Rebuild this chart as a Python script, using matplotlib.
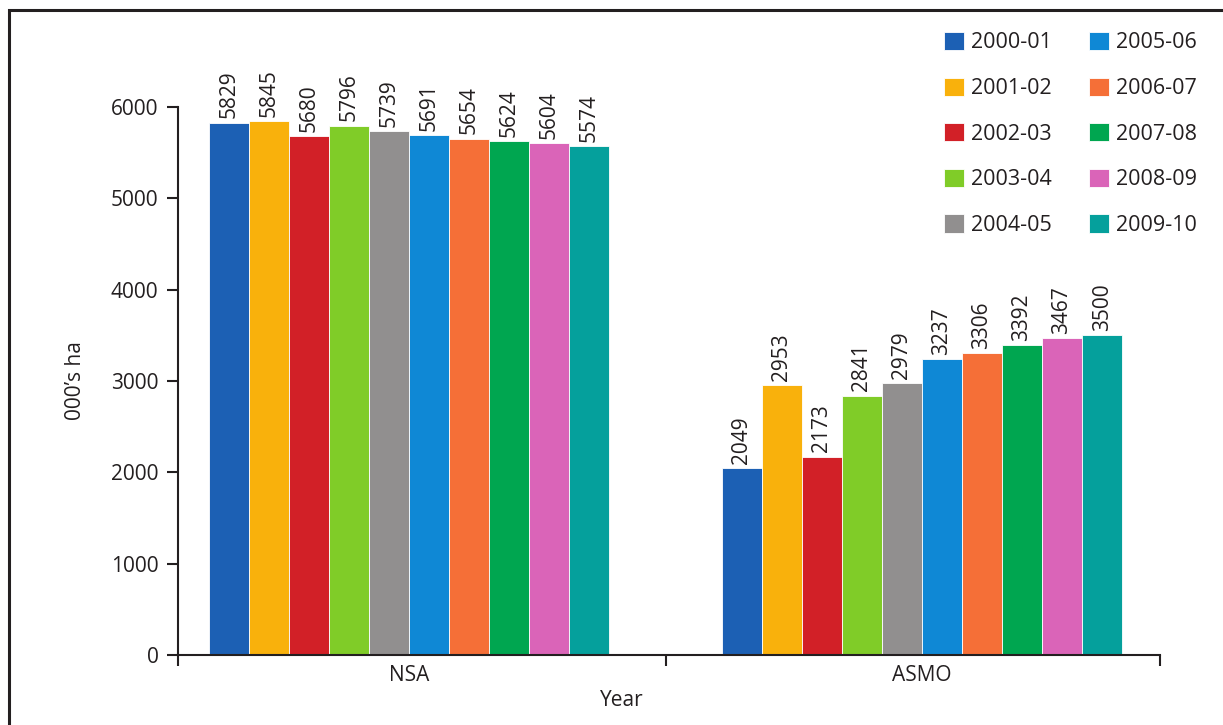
import numpy as np
import matplotlib.pyplot as plt
from matplotlib.patches import Rectangle

plt.rcParams['font.family'] = ['Open Sans', 'DejaVu Sans']
ink = '#231f20'

# --- data ---
regions = ['NSA', 'ASMO']
seasons = ['2000-01', '2001-02', '2002-03', '2003-04', '2004-05',
           '2005-06', '2006-07', '2007-08', '2008-09', '2009-10']
nsa = [5829, 5845, 5680, 5796, 5739, 5691, 5654, 5624, 5604, 5574]
asmo = [2049, 2953, 2173, 2841, 2979, 3237, 3306, 3392, 3467, 3500]
colors = ['#1c60b4', '#f9b10c', '#d22027', '#80cc28', '#918f8f',
          '#0f88d5', '#f56f37', '#00a650', '#da64b8', '#05a09c']

values = np.array([nsa, asmo])  # rows = region, cols = season

fig = plt.figure(figsize=(12.23, 7.25), dpi=100)
ax = fig.add_axes([178 / 1223, 1 - 655 / 725, 982 / 1223, 548 / 725])

# outer frame
fig.patches.append(Rectangle((9 / 1223, -0.1), 1.2, 1 - 10 / 725 + 0.1,
                             transform=fig.transFigure, fill=False,
                             edgecolor=ink, linewidth=2.2))

x = np.arange(len(regions))
w = 0.0780
n = len(seasons)
for i, s in enumerate(seasons):
    pos = x + (i - (n - 1) / 2) * w
    bars = ax.bar(pos, values[:, i], width=w, color=colors[i],
                  edgecolor='white', linewidth=0.6, label=s, zorder=2)
    for b, v in zip(bars, values[:, i]):
        ax.annotate(f'{v}', (b.get_x() + b.get_width() / 2, v),
                    xytext=(0, 3), textcoords='offset points',
                    rotation=90, ha='center', va='bottom',
                    fontsize=15, color=ink)

x0, x1 = (178 - 409) / 513, (1160 - 409) / 513
ax.set_xlim(x0, x1)
ax.set_ylim(0, 6000)
ax.set_yticks(np.arange(0, 6001, 1000))

ax.set_xticks([x0, 0.5, x1])
ax.set_xticklabels([])
ax.set_xticks(x, minor=True)
ax.set_xticklabels(regions, minor=True)
ax.tick_params(axis='x', which='major', length=8, width=1.5, color=ink, direction='out')
ax.tick_params(axis='x', which='minor', length=0, pad=7, labelsize=15, labelcolor=ink)
ax.tick_params(axis='y', length=8, width=1.5, color=ink, labelsize=15,
               labelcolor=ink, pad=6)

for side in ['top', 'right']:
    ax.spines[side].set_visible(False)
for side in ['left', 'bottom']:
    ax.spines[side].set_color(ink)
    ax.spines[side].set_linewidth(1.5)

ax.set_ylabel('000’s ha', fontsize=15, color=ink)
ax.yaxis.set_label_coords((86 - 178) / 982, 0.5)
ax.set_xlabel('Year', fontsize=15, color=ink, va='center')
ax.xaxis.set_label_coords((622 - 178) / 982, -46 / 548)

ax.legend(ncol=2, loc='upper left', bbox_to_anchor=(944 / 1223, 1 - 32 / 725),
          bbox_transform=fig.transFigure, frameon=False, fontsize=15.5,
          handlelength=0.92, handleheight=0.92, handletextpad=0.35,
          columnspacing=1.7, labelspacing=1.12, borderpad=0, borderaxespad=0,
          labelcolor=ink)

fig.savefig('out.png', dpi=100)
